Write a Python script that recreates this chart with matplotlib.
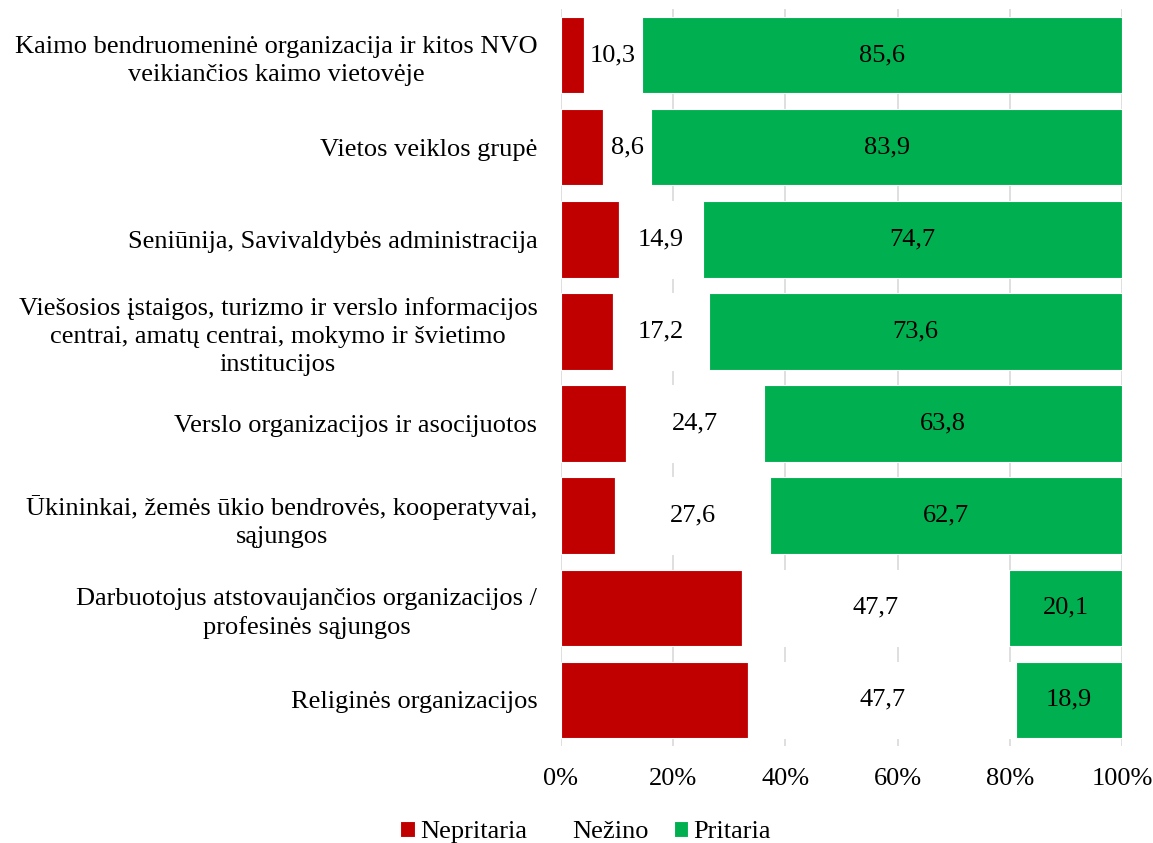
import matplotlib.pyplot as plt
import numpy as np

plt.rcParams["font.family"] = ["Liberation Serif", "DejaVu Serif"]

categories = [
    "Kaimo bendruomeninė organizacija ir kitos NVO\nveikiančios kaimo vietovėje",
    "Vietos veiklos grupė",
    "Seniūnija, Savivaldybės administracija",
    "Viešosios įstaigos, turizmo ir verslo informacijos\ncentrai, amatų centrai, mokymo ir švietimo\ninstitucijos",
    "Verslo organizacijos ir asocijuotos",
    "Ūkininkai, žemės ūkio bendrovės, kooperatyvai,\nsąjungos",
    "Darbuotojus atstovaujančios organizacijos /\nprofesinės sąjungos",
    "Religinės organizacijos",
]
nepritaria = [4.1, 7.5, 10.4, 9.2, 11.5, 9.7, 32.2, 33.4]
nezino = [10.3, 8.6, 14.9, 17.2, 24.7, 27.6, 47.7, 47.7]
pritaria = [85.6, 83.9, 74.7, 73.6, 63.8, 62.7, 20.1, 18.9]

RED = "#C00000"
GREEN = "#00B050"
FS = 19

fig = plt.figure(figsize=(11.53, 8.43), dpi=100)
ax = fig.add_axes([561 / 1153, 1 - 746 / 843, 561 / 1153, 737 / 843])

y = np.arange(len(categories))
nep = np.array(nepritaria)
nez = np.array(nezino)
pri = np.array(pritaria)
tot = nep + nez + pri
nep_p = nep / tot * 100
nez_p = nez / tot * 100
pri_p = pri / tot * 100

h = 0.83
b1 = ax.barh(y, nep_p, height=h, color=RED, edgecolor="white", linewidth=0.8, zorder=2)
b2 = ax.barh(y, nez_p, left=nep_p, height=h, color="white", edgecolor="white", linewidth=0.8, zorder=2)
b3 = ax.barh(y, pri_p, left=nep_p + nez_p, height=h, color=GREEN, edgecolor="white", linewidth=0.8, zorder=2)

for i in range(len(categories)):
    ax.text(nep_p[i] + nez_p[i] / 2, y[i], f"{nezino[i]:.1f}".replace(".", ","),
            ha="center", va="center", fontsize=FS, zorder=3)
    ax.text(nep_p[i] + nez_p[i] + pri_p[i] / 2, y[i], f"{pritaria[i]:.1f}".replace(".", ","),
            ha="center", va="center", fontsize=FS, zorder=3)

ax.set_xlim(0, 100)
ax.set_ylim(len(categories) - 0.5, -0.5)
ax.set_xticks([0, 20, 40, 60, 80, 100])
ax.set_xticklabels(["0%", "20%", "40%", "60%", "80%", "100%"], fontsize=FS)
ax.set_yticks(y)
ax.set_yticklabels(categories, fontsize=FS, ha="right", multialignment="center", linespacing=1.35)
ax.tick_params(axis="both", length=0)
ax.tick_params(axis="x", pad=16)
ax.tick_params(axis="y", pad=17)
ax.grid(axis="x", color="#D9D9D9", linewidth=1.2, zorder=0)
ax.set_axisbelow(True)
for s in ax.spines.values():
    s.set_visible(False)

fig.legend(handles=[b1[0], b2[0], b3[0]], labels=["Nepritaria", "Nežino", "Pritaria"],
           loc="center", bbox_to_anchor=(0.508, 1 - 832 / 843), ncol=3, frameon=False,
           fontsize=FS, handlelength=0.55, handleheight=0.55, handletextpad=0.2, columnspacing=0.95)

fig.savefig("out.png", dpi=100)
